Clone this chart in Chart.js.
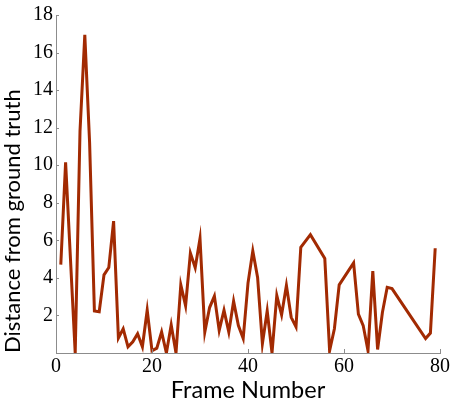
<!DOCTYPE html>
<html>
<head>
<meta charset="utf-8">
<script src="https://cdn.jsdelivr.net/npm/chart.js@4/dist/chart.umd.min.js"></script>
<style>
  html, body { margin: 0; padding: 0; background: #fff; }
  #wrap { width: 454px; height: 401px; }
</style>
</head>
<body>
<div id="wrap"><canvas id="c" width="454" height="401"></canvas></div>
<script>
const frames = [1,2,4,5,6,7,8,9,10,11,12,13,14,15,16,17,18,19,20,21,22,23,24,25,26,27,28,29,30,31,32,33,34,35,36,37,38,39,40,41,42,43,44,45,46,47,48,49,50,51,53,56,57,58,59,62,63,64,65,66,67,68,69,70,77,78,79];
const distances = [4.71,10.15,0,11.8,16.94,11.2,2.24,2.2,4.16,4.55,7.02,0.8,1.29,0.33,0.6,1.03,0.33,2.28,0.12,0.26,1.12,0,1.5,0,3.63,2.52,5.32,4.54,6.1,1.11,2.42,3.03,1.2,2.28,1.11,2.76,1.46,0.77,3.72,5.43,4.02,0.5,2.24,0,3.06,2.03,3.6,1.9,1.39,5.63,6.3,5.03,0.12,1.29,3.63,4.8,2.07,1.46,0.12,4.36,0.19,2.16,3.5,3.43,0.77,1.06,5.58];
const xTickValues = [0,20,40,60,80];
const yTickValues = [0,2,4,6,8,10,12,14,16,18];
const xTitle = 'Frame Number';
const yTitle = 'Distance from ground truth';

const points = frames.map((f, i) => ({x: f, y: distances[i]}));
const axisColor = '#8c8c8c';
const tickFont = {family: "'Liberation Serif', 'DejaVu Serif', serif", size: 20};
const xTitleFont = {family: "Lato, 'Open Sans', sans-serif", size: 23.5};
const yTitleFont = {family: "Lato, 'Open Sans', sans-serif", size: 22};

const innerTicks = {
  id: 'innerTicks',
  afterDraw(chart) {
    const ctx = chart.ctx, xs = chart.scales.x, ys = chart.scales.y;
    ctx.save();
    ctx.strokeStyle = axisColor;
    ctx.lineWidth = 1;
    ctx.beginPath();
    xs.ticks.forEach(t => {
      const px = Math.round(xs.getPixelForValue(t.value)) + 0.5;
      ctx.moveTo(px, ys.bottom); ctx.lineTo(px, ys.bottom - 4);
    });
    ys.ticks.forEach(t => {
      const py = Math.round(ys.getPixelForValue(t.value)) + 0.5;
      ctx.moveTo(xs.left, py); ctx.lineTo(xs.left + 3, py);
    });
    ctx.stroke();
    ctx.restore();
  }
};

new Chart(document.getElementById('c'), {
  type: 'line',
  data: {
    datasets: [{
      data: points,
      borderColor: 'rgb(162,42,2)',
      borderWidth: 3,
      pointRadius: 0,
      tension: 0,
      fill: false
    }]
  },
  options: {
    responsive: false,
    animation: false,
    devicePixelRatio: 1,
    layout: {padding: {top: 8, right: 14, left: 0, bottom: 0}},
    plugins: {legend: {display: false}, tooltip: {enabled: false}},
    scales: {
      x: {
        type: 'linear', min: 0, max: 80,
        afterBuildTicks: s => { s.ticks = xTickValues.map(v => ({value: v})); },
        afterFit: s => { s.height = 48; },
        ticks: {font: tickFont, color: '#000', padding: 2, maxRotation: 0},
        grid: {display: true, drawOnChartArea: false, drawTicks: false, color: axisColor},
        border: {display: true, color: axisColor, width: 1},
        title: {display: true, text: xTitle, font: xTitleFont, color: '#000', padding: {top: 0, bottom: -4}}
      },
      y: {
        type: 'linear', min: 0, max: 18,
        afterBuildTicks: s => { s.ticks = yTickValues.map(v => ({value: v})); },
        afterFit: s => { s.width = 56; },
        ticks: {font: tickFont, color: '#000', padding: 3, callback: v => v === 0 ? '' : v},
        grid: {display: true, drawOnChartArea: false, drawTicks: false, color: axisColor},
        border: {display: true, color: axisColor, width: 1},
        title: {display: true, text: yTitle, font: yTitleFont, color: '#000', align: 'start', padding: {top: 0, bottom: 0}}
      }
    }
  },
  plugins: [innerTicks]
});
</script>
</body>
</html>
